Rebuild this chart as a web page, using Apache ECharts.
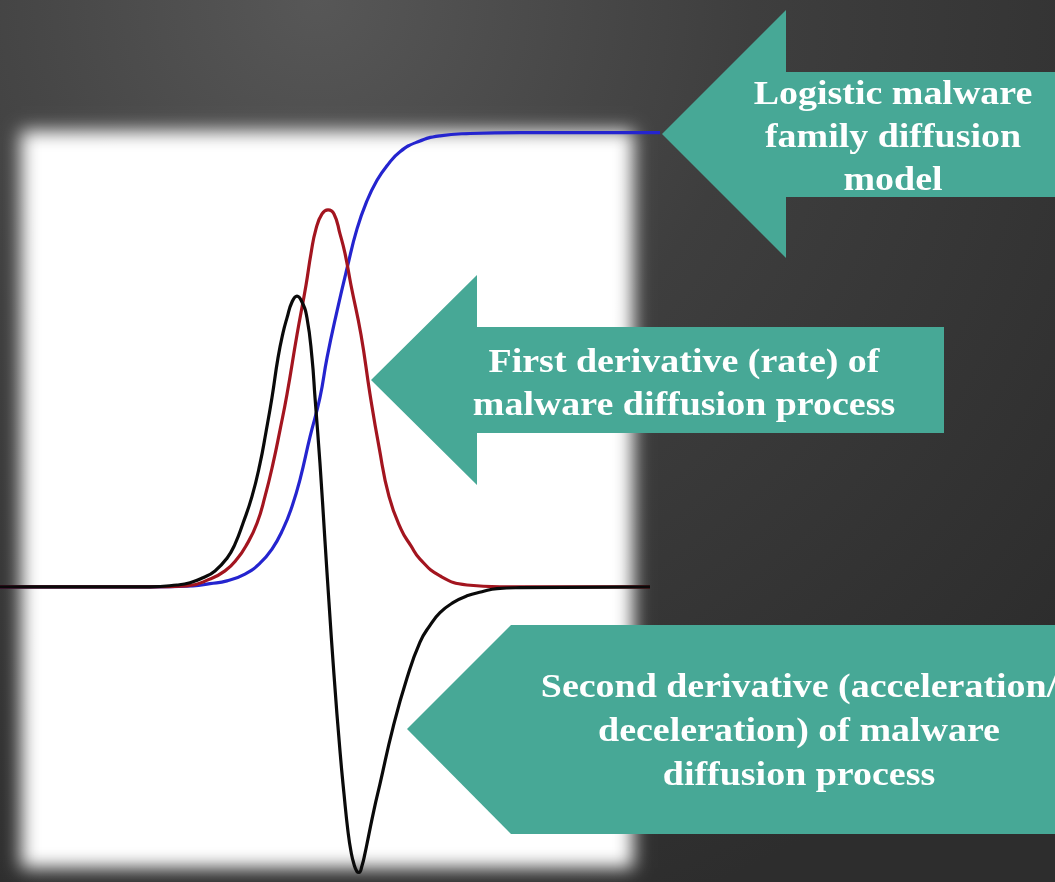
<!DOCTYPE html>
<html>
<head>
<meta charset="utf-8">
<script src="https://cdn.jsdelivr.net/npm/echarts@6/dist/echarts.min.js"></script>
<style>
  html, body { margin: 0; padding: 0; background: #333; }
  #main { width: 1055px; height: 882px; }
</style>
</head>
<body>
<div id="main"></div>
<script>
// curve points (x: time units, y: share of saturation)
var logisticX = [0, 15, 19.3, 21.0, 22.7, 24.5, 26.0, 27.2, 28.3, 29.2, 30.0, 31.0, 32.0, 32.7, 33.7, 34.7, 35.7, 36.7, 37.7, 38.7, 40.0, 41.8, 44.0, 47.0, 52.0, 66];
var logisticY = [0, 0, 0.002, 0.007, 0.013, 0.028, 0.052, 0.083, 0.127, 0.177, 0.236, 0.330, 0.417, 0.504, 0.607, 0.701, 0.788, 0.850, 0.895, 0.927, 0.958, 0.980, 0.993, 0.998, 1, 1];

var rateX = [0, 15, 18.7, 21.0, 22.5, 23.7, 24.7, 25.7, 26.5, 27.3, 28.0, 28.7, 29.7, 30.6, 31.1, 31.6, 32.2, 32.8, 33.4, 34.0, 34.5, 35.1, 36.1, 37.0, 37.9, 38.9, 40.1, 41.1, 42.0, 44.0, 46.7, 50.0, 65];
var rateY = [0, 0, 0.002, 0.017, 0.035, 0.061, 0.094, 0.140, 0.199, 0.271, 0.345, 0.424, 0.555, 0.664, 0.734, 0.788, 0.821, 0.830, 0.821, 0.777, 0.734, 0.664, 0.555, 0.424, 0.308, 0.199, 0.127, 0.090, 0.061, 0.024, 0.004, 0, 0];

var accelX = [0, 15, 17.7, 19.0, 20.3, 21.5, 22.7, 23.5, 24.3, 25.2, 26.0, 26.6, 27.2, 27.8, 28.3, 28.7, 29.2, 29.7, 30.2, 30.7, 31.2, 31.5, 32.0, 32.5, 32.9, 33.4, 34.0, 34.4, 34.8, 35.1, 35.4, 35.7, 35.9, 36.2, 36.5, 36.8, 37.4, 38.0, 39.3, 40.7, 42.0, 43.0, 44.0, 45.3, 46.7, 48.2, 49.7, 52.0, 65];
var accelY = [0, 0, 0.004, 0.009, 0.020, 0.035, 0.063, 0.094, 0.140, 0.199, 0.271, 0.341, 0.417, 0.504, 0.559, 0.592, 0.627, 0.640, 0.627, 0.592, 0.504, 0.417, 0.271, 0.100, -0.035, -0.194, -0.362, -0.456, -0.539, -0.583, -0.611, -0.627, -0.629, -0.614, -0.587, -0.555, -0.491, -0.434, -0.310, -0.201, -0.122, -0.085, -0.057, -0.035, -0.020, -0.011, -0.004, -0.002, 0];

var calloutLogistic = ['Logistic malware', 'family diffusion', 'model'];
var calloutRate = ['First derivative (rate) of', 'malware diffusion process'];
var calloutAccel = ['Second derivative (acceleration/', 'deceleration) of malware', 'diffusion process'];

function pairs(xs, ys) {
  return xs.map(function (x, i) { return [x, ys[i]]; });
}

var teal = '#47a896';
var textFont = 'bold 33px "Liberation Serif", serif';

function textLines(lines, cx, y0, step) {
  return lines.map(function (t, i) {
    return {
      type: 'text', z: 20, x: cx, y: y0 + i * step, scaleX: 1.15,
      style: {
        text: t, fill: '#fff', font: textFont,
        align: 'center', verticalAlign: 'middle',
        textAlign: 'center', textVerticalAlign: 'middle'
      }
    };
  });
}

var myChart = echarts.init(document.getElementById('main'), null, { renderer: 'canvas' });

var graphics = [
  // dark slide background
  {
    type: 'rect', z: -20, shape: { x: 0, y: 0, width: 1055, height: 882 },
    style: {
      fill: new echarts.graphic.RadialGradient(0.3, 0.0, 1.1, [
        { offset: 0, color: '#575757' },
        { offset: 0.45, color: '#3e3e3e' },
        { offset: 1, color: '#2d2d2d' }
      ])
    }
  },
  // white panel with soft edges (only its shadow is on screen)
  {
    type: 'rect', z: -10, shape: { x: 21 + 3000, y: 131, width: 612, height: 737 },
    style: { fill: '#fff', shadowBlur: 17, shadowColor: '#fff', shadowOffsetX: -3000 }
  },
  // arrows
  {
    type: 'polygon', z: 15,
    shape: { points: [[662, 134], [786, 10], [786, 72], [1060, 72], [1060, 197], [786, 197], [786, 258]] },
    style: { fill: teal }
  },
  {
    type: 'polygon', z: 15,
    shape: { points: [[371, 380], [477, 275], [477, 327], [944, 327], [944, 433], [477, 433], [477, 485]] },
    style: { fill: teal }
  },
  {
    type: 'polygon', z: 15,
    shape: { points: [[407, 729], [511, 625], [1060, 625], [1060, 834], [511, 834]] },
    style: { fill: teal }
  }
].concat(textLines(calloutLogistic, 893, 95, 43))
 .concat(textLines(calloutRate, 684, 363, 43))
 .concat(textLines(calloutAccel, 799, 688, 44));

var option = {
  animation: false,
  backgroundColor: '#333',
  grid: { left: 0, width: 660, top: 87.2, height: 801.5 },
  xAxis: {
    type: 'value', min: 0, max: 66,
    axisLine: { show: false }, axisTick: { show: false },
    axisLabel: { show: false }, splitLine: { show: false }
  },
  yAxis: {
    type: 'value', min: -0.65, max: 1.1,
    axisLine: { show: false }, axisTick: { show: false },
    axisLabel: { show: false }, splitLine: { show: false }
  },
  graphic: graphics,
  series: [
    {
      name: 'logistic', type: 'line', data: pairs(logisticX, logisticY),
      smooth: 0.5, showSymbol: false, clip: false,
      lineStyle: { color: '#2424cf', width: 3.2 }
    },
    {
      name: 'rate', type: 'line', data: pairs(rateX, rateY),
      smooth: 0.5, showSymbol: false, clip: false,
      lineStyle: { color: '#a3151f', width: 3.2 }
    },
    {
      name: 'acceleration', type: 'line', data: pairs(accelX, accelY),
      smooth: 0.5, showSymbol: false, clip: false,
      lineStyle: { color: '#0a0a0a', width: 3.2 }
    }
  ]
};

myChart.setOption(option);
</script>
</body>
</html>
